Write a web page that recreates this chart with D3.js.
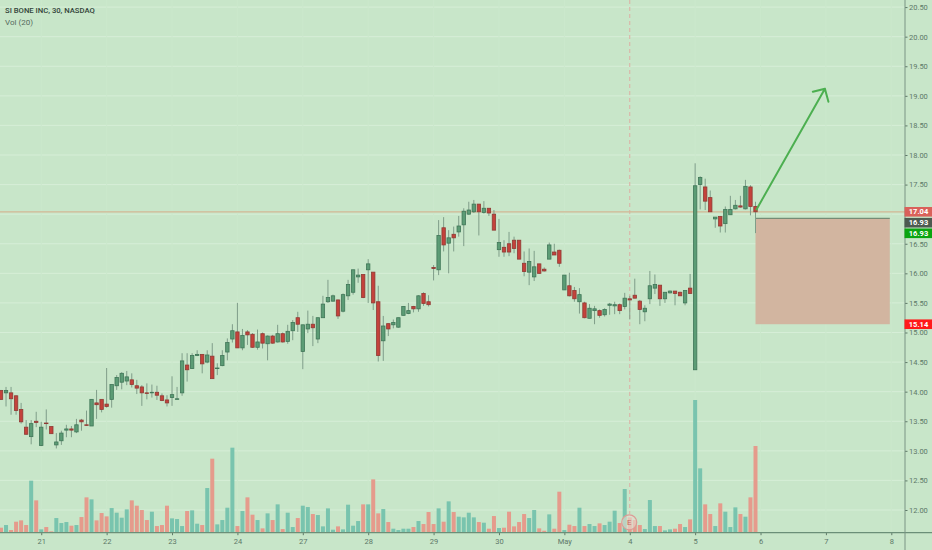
<!DOCTYPE html>
<html><head><meta charset="utf-8">
<script src="https://cdnjs.cloudflare.com/ajax/libs/d3/7.8.5/d3.min.js"></script>
<style>html,body{margin:0;padding:0;background:#c8e6c9;overflow:hidden}svg{display:block}</style>
</head><body><svg id="c" width="932" height="550"></svg>
<script>
const opens=[14.02,13.98,13.98,13.93,13.70,13.40,13.24,13.50,13.09,13.47,
13.41,13.10,13.17,13.35,13.37,13.32,13.52,13.44,13.42,13.81,
13.87,13.79,13.87,14.10,14.16,14.18,14.20,14.10,14.08,13.98,
13.98,13.99,13.93,13.86,13.90,13.87,13.98,14.45,14.39,14.61,
14.63,14.50,14.60,14.39,14.44,14.67,14.89,15.01,14.74,15.01,
14.97,14.75,14.98,14.81,14.94,14.84,14.98,14.85,15.03,15.25,
14.68,15.06,15.14,14.89,15.25,15.52,15.53,15.55,15.36,15.62,
15.68,15.94,15.98,16.06,16.02,15.52,14.86,15.15,15.13,15.09,
15.29,15.32,15.44,15.40,15.66,15.52,16.10,16.06,16.77,16.51,
16.66,16.70,16.82,17.00,17.04,17.17,17.03,17.10,17.00,16.40,
16.44,16.50,16.56,16.56,16.17,16.02,15.94,16.16,16.07,16.24,
16.36,16.39,15.72,15.79,15.71,15.52,15.50,15.24,15.37,15.37,
15.30,15.46,15.45,15.47,15.44,15.57,15.63,15.53,15.35,15.57,
15.75,15.80,15.57,15.67,15.70,15.68,15.50,15.75,14.37,17.50,
17.46,17.28,16.92,16.96,16.84,16.99,17.09,17.14,17.09,17.46,
17.13];
const highs=[14.03,14.08,14.08,13.94,13.81,13.52,13.52,13.66,13.49,13.70,
13.41,13.30,13.34,13.44,13.42,13.54,13.54,13.68,13.87,14.03,
13.87,14.40,14.12,14.28,14.33,14.35,14.31,14.20,14.11,14.14,
14.12,14.10,13.97,13.94,14.26,14.08,14.65,14.65,14.65,14.70,
14.63,14.70,14.82,14.48,14.70,14.90,15.14,15.50,15.06,15.04,
14.99,15.05,15.00,14.95,14.96,15.13,15.00,15.13,15.21,15.35,
15.13,15.37,15.28,15.25,15.62,15.89,15.64,15.56,15.66,15.89,
16.06,16.08,15.98,16.24,16.02,15.79,15.28,15.15,15.22,15.25,
15.44,15.50,15.45,15.63,15.68,15.63,16.14,16.90,16.95,16.73,
16.79,16.97,17.10,17.21,17.24,17.17,17.22,17.10,17.07,16.92,
16.56,16.70,16.62,16.56,16.37,16.42,16.38,16.16,16.10,16.52,
16.50,16.40,15.97,16.01,15.77,15.75,15.52,15.48,15.45,15.39,
15.41,15.50,15.52,15.49,15.67,15.62,15.91,15.55,15.46,16.04,
15.98,15.80,15.68,15.71,15.70,15.69,15.71,15.99,17.86,17.64,
17.60,17.40,16.95,16.97,17.13,17.31,17.24,17.31,17.58,17.49,
17.21];
const lows=[13.86,13.75,13.61,13.61,13.46,13.27,13.11,13.40,13.08,13.36,
13.29,13.04,13.10,13.23,13.23,13.30,13.34,13.42,13.42,13.54,
13.65,13.73,13.73,14.03,14.04,14.11,14.07,13.96,13.76,13.87,
13.90,13.86,13.84,13.75,13.76,13.87,13.93,14.17,14.39,14.60,
14.31,14.48,14.22,14.28,14.43,14.53,14.83,14.74,14.70,14.79,
14.74,14.71,14.73,14.53,14.81,14.83,14.83,14.81,14.87,15.01,
14.38,14.99,14.77,14.82,15.25,15.50,15.52,15.23,15.34,15.55,
15.64,15.84,15.58,15.50,15.38,14.51,14.52,14.94,15.07,15.08,
15.29,15.31,15.34,15.35,15.45,15.44,15.88,15.97,16.37,16.00,
16.37,16.62,16.46,16.99,17.02,16.64,17.01,16.97,16.73,16.28,
16.28,16.29,16.34,16.24,15.95,15.80,15.87,15.99,16.03,16.24,
16.31,16.11,15.72,15.61,15.52,15.32,15.24,15.24,15.14,15.25,
15.27,15.30,15.31,15.31,15.39,15.22,15.58,15.14,15.19,15.48,
15.65,15.45,15.50,15.66,15.46,15.62,15.46,15.66,14.37,17.08,
17.07,17.04,16.77,16.69,16.69,16.99,17.08,17.11,17.08,16.98,
16.68];
const closes=[13.87,14.02,13.88,13.68,13.49,13.28,13.46,13.48,13.40,13.46,
13.29,13.15,13.30,13.37,13.35,13.44,13.49,13.43,13.87,13.78,
13.70,13.75,14.12,14.24,14.31,14.25,14.12,14.06,13.98,13.97,
13.99,13.94,13.85,13.81,13.95,13.88,14.52,14.37,14.61,14.63,
14.47,14.62,14.22,14.40,14.61,14.83,15.03,14.74,14.95,14.96,
14.75,14.84,14.82,14.94,14.82,14.98,14.84,15.02,15.17,15.14,
15.13,15.14,15.08,15.25,15.48,15.59,15.62,15.28,15.64,15.81,
16.06,15.97,15.59,16.16,15.50,14.61,15.11,15.06,15.17,15.25,
15.44,15.37,15.40,15.62,15.49,15.47,16.08,16.64,16.48,16.60,
16.60,16.80,17.05,17.07,17.17,17.04,17.10,17.02,16.73,16.52,
16.36,16.36,16.42,16.24,16.03,16.20,16.11,16.00,16.04,16.48,
16.31,16.17,15.97,15.62,15.57,15.64,15.25,15.41,15.40,15.29,
15.39,15.48,15.47,15.37,15.58,15.55,15.58,15.39,15.41,15.79,
15.81,15.57,15.68,15.70,15.66,15.62,15.71,15.66,17.48,17.62,
17.22,17.04,16.95,16.80,17.08,17.08,17.15,17.12,17.47,17.13,
17.04];
const volumes=[15,23,8,33,37,23,156,97,10,17,
4,44,29,32,21,23,47,106,100,37,
59,49,74,60,45,70,97,81,68,38,
63,20,23,81,43,41,20,65,67,27,
23,134,222,25,38,75,255,20,65,106,
54,38,13,58,38,85,11,60,17,44,
81,77,56,53,19,73,9,19,10,84,
21,35,85,85,160,58,71,32,12,8,
12,12,17,35,26,62,26,73,33,94,
62,48,46,60,46,32,30,12,50,14,
15,63,19,32,56,44,68,13,6,55,
12,123,8,24,20,75,20,26,20,28,
23,33,66,29,131,46,38,23,11,98,
20,20,7,10,12,26,17,40,398,193,
85,56,20,88,63,17,76,56,48,106,
260];
const dayLabels=["21","22","23","24","27","28","29","30","May","4","5","6","7","8"];
const dayTicks=[8,21,34,47,60,73,86,99,112,125,138,151,164,177];
const priceTicks=[12,12.5,13,13.5,14,14.5,15,15.5,16,16.5,17,17.5,18,18.5,19,19.5,20,20.5];
const hiddenTick=17; // covered by the 17.04 price tag in the picture
const levelPrice=17.04, entryPrice=16.93, stopPrice=15.14;
const boxFrom=150, boxTo=176.7;
const arrowFrom=[150.2,17.08], arrowTip=[163.8,19.12], arrowBarbs=[[161.4,19.07],[164.5,18.9]];
const earningsIndex=125;
const title="SI BONE INC, 30, NASDAQ", volTitle="Vol (20)";

const W=932,H=550,axisX=905,axisY=532.7;
const FONT="Roboto, sans-serif";
const x=d3.scaleLinear().domain([0,150]).range([1,755.5]);
const y=d3.scaleLinear().domain([12,18]).range([510,155]);
const yVol=d3.scaleLinear().domain([0,398]).range([axisY,axisY-132.7]);
const up=i=>closes[i]>=opens[i];
const idx=d3.range(opens.length);
const svg=d3.select("#c").attr("viewBox",[0,0,W,H]);
svg.append("rect").attr("width",W).attr("height",H).attr("fill","#c8e6c9");

// grid
svg.append("g").selectAll("line").data(priceTicks).join("line")
 .attr("x1",0).attr("x2",axisX).attr("y1",d=>y(d)).attr("y2",d=>y(d))
 .attr("stroke","#d6eed7").attr("stroke-width",1);
svg.append("g").selectAll("line").data(dayTicks).join("line")
 .attr("x1",d=>x(d)).attr("x2",d=>x(d)).attr("y1",0).attr("y2",axisY)
 .attr("stroke","#cbe8cc").attr("stroke-width",1);

// volume
svg.append("g").selectAll("rect").data(idx).join("rect")
 .attr("x",i=>x(i)-2).attr("width",4)
 .attr("y",i=>yVol(volumes[i])).attr("height",i=>axisY-yVol(volumes[i]))
 .attr("fill",i=>up(i)?"#79c4ae":"#e59b8c");

// earnings dashed line
svg.append("line").attr("x1",x(earningsIndex)).attr("x2",x(earningsIndex)).attr("y1",0).attr("y2",514)
 .attr("stroke","#dcaea3").attr("stroke-width",1).attr("stroke-dasharray","4 3");

// level line
svg.append("line").attr("x1",0).attr("x2",axisX).attr("y1",y(levelPrice)).attr("y2",y(levelPrice))
 .attr("stroke","#d3b795").attr("stroke-width",1.2);

// position box
svg.append("rect").attr("x",x(boxFrom)).attr("width",x(boxTo)-x(boxFrom))
 .attr("y",y(entryPrice)).attr("height",y(stopPrice)-y(entryPrice)).attr("fill","#d2b5a0");
svg.append("line").attr("x1",x(boxFrom)).attr("x2",x(boxTo)).attr("y1",y(entryPrice)).attr("y2",y(entryPrice))
 .attr("stroke","#5f7f68").attr("stroke-width",1);

// candles
const candles=svg.append("g");
candles.selectAll("line").data(idx).join("line")
 .attr("x1",i=>x(i)).attr("x2",i=>x(i)).attr("y1",i=>y(highs[i])).attr("y2",i=>y(lows[i]))
 .attr("stroke","#7f9d89").attr("stroke-width",1);
candles.selectAll("rect").data(idx).join("rect")
 .attr("x",i=>x(i)-1.7).attr("width",3.4)
 .attr("y",i=>y(Math.max(opens[i],closes[i])))
 .attr("height",i=>Math.max(0.6,Math.abs(y(opens[i])-y(closes[i]))))
 .attr("fill",i=>up(i)?"#5c9c75":"#c4423b")
 .attr("stroke",i=>up(i)?"#3f7657":"#8f3a34").attr("stroke-width",0.8);

// arrow
const arrowLine=d3.line().x(d=>x(d[0])).y(d=>y(d[1]));
svg.append("path").attr("fill","none").attr("stroke","#4caf50").attr("stroke-width",2)
 .attr("stroke-linejoin","round").attr("stroke-linecap","round")
 .attr("d",arrowLine([arrowFrom,arrowTip])+arrowLine([arrowBarbs[0],arrowTip,arrowBarbs[1]]));

// axes
const ax=d3.axisBottom(x).tickValues(dayTicks).tickFormat((d,i)=>dayLabels[i]).tickSize(2.5).tickPadding(3);
const gx=svg.append("g").attr("transform",`translate(0,${axisY})`).call(ax);
gx.select(".domain").remove();
svg.append("line").attr("x1",0).attr("x2",W).attr("y1",axisY).attr("y2",axisY).attr("stroke","#6b8f78").attr("stroke-width",1.3);
const ay=d3.axisRight(y).tickValues(priceTicks).tickFormat(d=>d===hiddenTick?"":d3.format(".2f")(d)).tickSize(2.5).tickPadding(1.5);
const gy=svg.append("g").attr("transform",`translate(${axisX},0)`).call(ay);
gy.select(".domain").remove();
svg.append("line").attr("x1",axisX).attr("x2",axisX).attr("y1",0).attr("y2",H).attr("stroke","#7b9484").attr("stroke-width",1);
svg.selectAll(".tick line").attr("stroke","#5f7a68");
svg.selectAll(".tick text").attr("fill","#5d7868").attr("font-family",FONT).attr("font-size",7.5);

// price labels
const priceLabels=[
 {v:levelPrice,shift:0,fill:"#d9615a"},
 {v:entryPrice,shift:4.4,fill:"#4d5a50"},
 {v:entryPrice,shift:15,fill:"#0aa510"},
 {v:stopPrice,shift:0,fill:"#ff1a1a"}];
const pl=svg.append("g").selectAll("g").data(priceLabels).join("g")
 .attr("transform",d=>`translate(${axisX-0.5},${y(d.v)+d.shift})`);
pl.append("rect").attr("x",0).attr("y",-4.8).attr("width",27.5).attr("height",9.6).attr("fill",d=>d.fill);
pl.append("text").attr("x",14).attr("dy","0.35em").attr("text-anchor","middle")
 .attr("fill","#fff").attr("font-family",FONT).attr("font-size",7.5).attr("font-weight",700)
 .text(d=>d.v.toFixed(2));

// earnings marker
const em=svg.append("g").attr("transform",`translate(${x(earningsIndex)-0.5},522.3)`);
em.append("circle").attr("r",7.5).attr("fill","#e6dccf").attr("fill-opacity",0.6).attr("stroke","#dc9c96").attr("stroke-width",1.2);
em.append("text").attr("text-anchor","middle").attr("dy","0.36em").attr("fill","#c9695f")
 .attr("font-family",FONT).attr("font-size",8).text("E");

// titles
svg.append("text").attr("x",5).attr("y",13.4).attr("fill","#33443a").attr("font-family",FONT)
 .attr("font-size",7.7).attr("font-weight",500).text(title);
svg.append("text").attr("x",5).attr("y",24.6).attr("fill","#566b5d").attr("font-family",FONT)
 .attr("font-size",8).text(volTitle);
</script></body></html>
